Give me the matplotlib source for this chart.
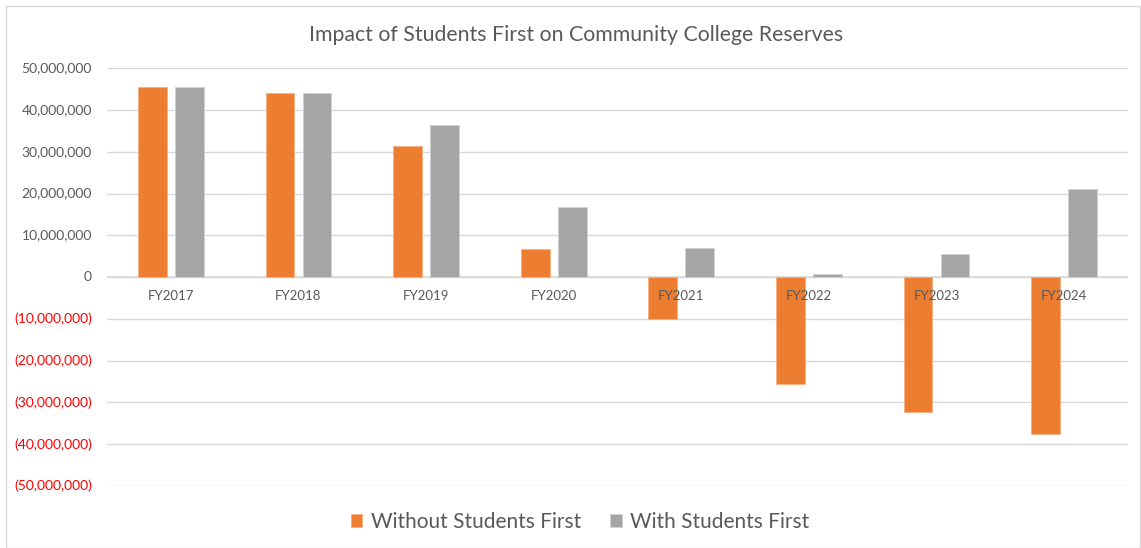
import matplotlib
matplotlib.use("Agg")
import matplotlib.pyplot as plt
from matplotlib.patches import Rectangle
import numpy as np

categories = ["FY2017", "FY2018", "FY2019", "FY2020", "FY2021", "FY2022", "FY2023", "FY2024"]
without_sf = [45.6e6, 44.0e6, 31.5e6, 6.7e6, -10.0e6, -25.6e6, -32.3e6, -37.5e6]
with_sf = [45.6e6, 44.0e6, 36.4e6, 16.7e6, 7.0e6, 0.7e6, 5.6e6, 21.0e6]
yticks = [50e6, 40e6, 30e6, 20e6, 10e6, 0, -10e6, -20e6, -30e6, -40e6, -50e6]

ORANGE = "#ED7D31"
GRAY = "#A5A5A5"
TEXT = "#595959"
FONT = "Lato"

fig = plt.figure(figsize=(11.41, 5.48), dpi=100)
axw = (1128 - 107)
ax = fig.add_axes([107/1141, 1-486/548, axw/1141, (486-68.3)/548])
fig.patches.append(Rectangle((6/1141, 0), 1-7/1141, 1-6/548, transform=fig.transFigure,
                             fill=False, edgecolor="#D9D9D9", linewidth=1))

x = np.arange(len(categories))
w = 0.225
off = 0.145
ax.bar(x - off, without_sf, w, color=ORANGE, edgecolor="#F4B183", linewidth=0.6, zorder=2,
       label="Without Students First")
ax.bar(x + off, with_sf, w, color=GRAY, edgecolor="#D0D0D0", linewidth=0.6, zorder=2,
       label="With Students First")

ax.set_xlim(-0.5, len(categories) - 0.5)
ax.set_ylim(-50e6, 50e6)
ax.set_yticks(yticks)
ax.set_yticklabels([])
for v in yticks:
    if v < 0:
        s = "({:,.0f})".format(-v)
        c = "#FF0000"
    else:
        s = "{:,.0f}".format(v)
        c = TEXT
    ax.text(-15/axw, v, s, transform=ax.get_yaxis_transform(), ha="right", va="center",
            fontsize=10, color=c, family=FONT)
ax.tick_params(axis="y", length=0)
ax.set_xticks([])
ax.grid(axis="y", color="#D9D9D9", linewidth=1)
ax.set_axisbelow(True)
for sp in ax.spines.values():
    sp.set_visible(False)
ax.axhline(0, color="#D9D9D9", linewidth=1.2, zorder=1)

for i, c in enumerate(categories):
    ax.text(i, -4.6e6, c, ha="center", va="center", fontsize=9.5, color=TEXT, family=FONT,
            zorder=5)

fig.text(576/1141, 1-35/548, "Impact of Students First on Community College Reserves",
         ha="center", va="center", fontsize=15.3, color=TEXT, family=FONT)

leg = fig.legend(loc="center", bbox_to_anchor=(580/1141, 1-522/548), ncol=2, frameon=False,
                 prop={"family": FONT, "size": 15}, handlelength=0.55, handleheight=0.55,
                 handletextpad=0.4, columnspacing=1.4)
for t in leg.get_texts():
    t.set_color(TEXT)

fig.savefig("out.png", dpi=100, facecolor="white")
